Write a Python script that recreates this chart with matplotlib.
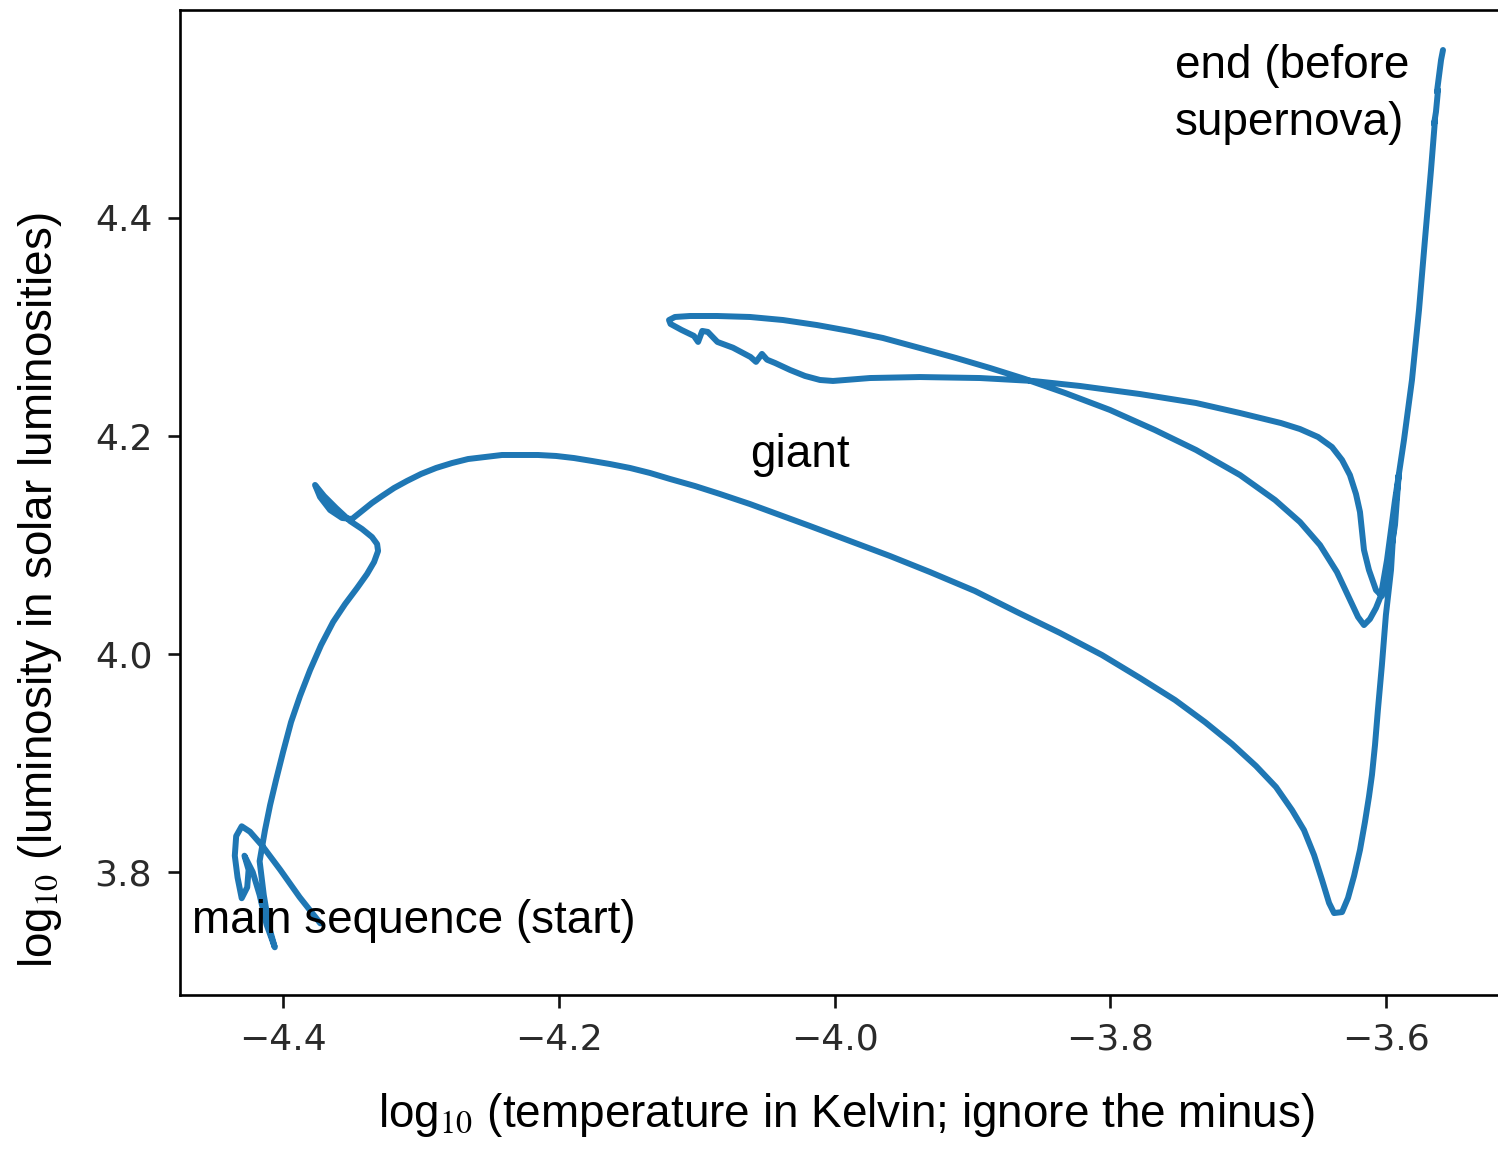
import numpy as np
import matplotlib
matplotlib.use("Agg")
import matplotlib.pyplot as plt

plt.rcParams['font.family'] = ['Liberation Sans', 'DejaVu Sans']
plt.rcParams['mathtext.fontset'] = 'stix'

# evolutionary track: -log10(T_eff) and log10(L/Lsun)
neg_log_t = [
    # start / main sequence tangle
    -4.373, -4.388, -4.402, -4.415, -4.424, -4.430, -4.434, -4.435, -4.433, -4.430,
    -4.426, -4.425, -4.428, -4.422, -4.417, -4.412, -4.406, -4.410, -4.414, -4.417,
    # rise to the hook
    -4.4131, -4.4094, -4.4051, -4.4000, -4.3942, -4.3877, -4.3804, -4.3724, -4.3637, -4.3550,
    -4.3463, -4.3391, -4.3340, -4.3311, -4.3318, -4.3355, -4.3427, -4.3514, -4.3616, -4.3703,
    -4.3768, -4.3732, -4.3659, -4.3572, -4.3500,
    # crossing to the red
    -4.3427, -4.3355, -4.3282, -4.3195, -4.3101, -4.2999, -4.2890, -4.2775, -4.2658, -4.2535,
    -4.2412, -4.2281, -4.2151, -4.2020, -4.1890, -4.1759, -4.1629, -4.1484, -4.1339, -4.1194,
    -4.1012, -4.0831, -4.0614, -4.0396, -4.0178, -3.9888, -3.9598, -3.9308, -3.8982, -3.8677,
    -3.8365, -3.8061, -3.7785, -3.7531, -3.7314, -3.7118, -3.6944, -3.6799, -3.6683, -3.6596,
    -3.6523, -3.6465, -3.6414, -3.6378, -3.6320, -3.6277, -3.6233, -3.6190, -3.6154, -3.6125,
    -3.6103, -3.6081, -3.6060, -3.6031, -3.6002, -3.5965, -3.5943, -3.5909, -3.5936, -3.5987,
    -3.6031,
    # blue loop, outward
    -3.6074, -3.6125, -3.6161, -3.6176, -3.6190, -3.6219, -3.6263, -3.6320, -3.6393, -3.6494,
    -3.6625, -3.6763, -3.7060, -3.7379, -3.7785, -3.8220, -3.8561, -3.8946, -3.9381, -3.9743,
    -3.9924, -4.0012, -4.0106, -4.0215, -4.0323, -4.0432, -4.0490, -4.0527, -4.0570, -4.0610,
    -4.0737, -4.0850, -4.0920, -4.0960, -4.0990, -4.1020, -4.1110, -4.1190, -4.1201,
    # blue loop, return
    -4.1158, -4.1049, -4.0853, -4.0614, -4.0374, -4.0128, -3.9888, -3.9649, -3.9381, -3.9120,
    -3.8873, -3.8619, -3.8329, -3.8003, -3.7677, -3.7379, -3.7060, -3.6806, -3.6625, -3.6480,
    -3.6357, -3.6269, -3.6204, -3.6161, -3.6118, -3.6074, -3.6039,
    # final ascent
    -3.5994, -3.5936, -3.5871, -3.5813, -3.5762, -3.5719, -3.5675, -3.5646, -3.5653, -3.5639,
    -3.5624, -3.5632, -3.5602, -3.5588,
]
log_l = [
    3.753, 3.777, 3.802, 3.824, 3.837, 3.842, 3.833, 3.815, 3.795, 3.776,
    3.786, 3.802, 3.815, 3.800, 3.779, 3.752, 3.731, 3.749, 3.779, 3.810,
    3.8385, 3.8615, 3.8844, 3.9101, 3.9376, 3.9615, 3.9853, 4.0083, 4.0294, 4.0459,
    4.0606, 4.0734, 4.0844, 4.0945, 4.1009, 4.1073, 4.1147, 4.1220, 4.1340, 4.1450,
    4.1551, 4.1441, 4.1321, 4.1248, 4.1239,
    4.1313, 4.1386, 4.1450, 4.1523, 4.1588, 4.1652, 4.1707, 4.1752, 4.1789, 4.1807,
    4.1826, 4.1826, 4.1826, 4.1817, 4.1798, 4.1771, 4.1743, 4.1707, 4.1661, 4.1606,
    4.1541, 4.1468, 4.1376, 4.1275, 4.1174, 4.1037, 4.0899, 4.0752, 4.0578, 4.0385,
    4.0193, 3.9991, 3.9780, 3.9578, 3.9376, 3.9175, 3.8973, 3.8780, 3.8569, 3.8385,
    3.8156, 3.7927, 3.7716, 3.7624, 3.7633, 3.7762, 3.7964, 3.8203, 3.8459, 3.8690,
    3.8892, 3.9166, 3.9488, 3.9899, 4.0358, 4.0771, 4.1230, 4.1642, 4.1184, 4.0771,
    4.0532,
    4.0587, 4.0771, 4.0955, 4.1138, 4.1303, 4.1468, 4.1642, 4.1780, 4.1899, 4.1991,
    4.2064, 4.2119, 4.2211, 4.2303, 4.2385, 4.2459, 4.2505, 4.2532, 4.2541, 4.2532,
    4.2514, 4.2505, 4.2514, 4.2551, 4.2606, 4.2670, 4.2700, 4.2753, 4.2680, 4.2725,
    4.2810, 4.2863, 4.2955, 4.2964, 4.2863, 4.2918, 4.2973, 4.3028, 4.3064,
    4.3092, 4.3101, 4.3101, 4.3092, 4.3064, 4.3018, 4.2963, 4.2899, 4.2807, 4.2716,
    4.2624, 4.2523, 4.2395, 4.2239, 4.2055, 4.1872, 4.1642, 4.1413, 4.1211, 4.1000,
    4.0752, 4.0514, 4.0340, 4.0266, 4.0321, 4.0422, 4.0532,
    4.0862, 4.1413, 4.1963, 4.2514, 4.3156, 4.3798, 4.4440, 4.4899, 4.4862, 4.4973,
    4.5174, 4.5156, 4.5450, 4.5541,
]

x_ticks = [-4.4, -4.2, -4.0, -3.8, -3.6]
y_ticks = [3.8, 4.0, 4.2, 4.4]

fig = plt.figure(figsize=(14.98, 11.49), dpi=100)
ax = fig.add_axes([0.1202, 0.134, 0.8845, 0.8573])

ax.plot(neg_log_t, log_l, color='#1f77b4', linewidth=4.3,
        solid_joinstyle='round', solid_capstyle='round')

ax.set_xlim(-4.4747, -3.5138)
ax.set_ylim(3.6872, 4.5908)
ax.set_xticks(x_ticks)
ax.set_yticks(y_ticks)
ax.tick_params(length=9, width=1.9, pad=11, labelsize=26, colors='#111111')
for lab in ax.get_xticklabels() + ax.get_yticklabels():
    lab.set_fontfamily('DejaVu Sans')
    lab.set_color('#2a2a2a')
for sp in ax.spines.values():
    sp.set_linewidth(1.9)

# labels on the stages of the track
ax.text(-3.753, 4.560, 'end (before\nsupernova)', fontsize=33,
        ha='left', va='top', linespacing=1.39)
ax.text(-4.0613, 4.1716, 'giant', fontsize=33, ha='left', va='baseline')
ax.text(-4.466, 3.744, 'main sequence (start)', fontsize=33,
        ha='left', va='baseline')

fig.text(846 / 1498, 1 - 1115 / 1149,
         r'log$_{10}$ (temperature in Kelvin; ignore the minus)',
         fontsize=33, ha='center', va='center')
fig.text(40 / 1498, 1 - 590 / 1149,
         r'log$_{10}$ (luminosity in solar luminosities)',
         fontsize=33, ha='center', va='center', rotation=90)

fig.savefig('out.png', dpi=100)
